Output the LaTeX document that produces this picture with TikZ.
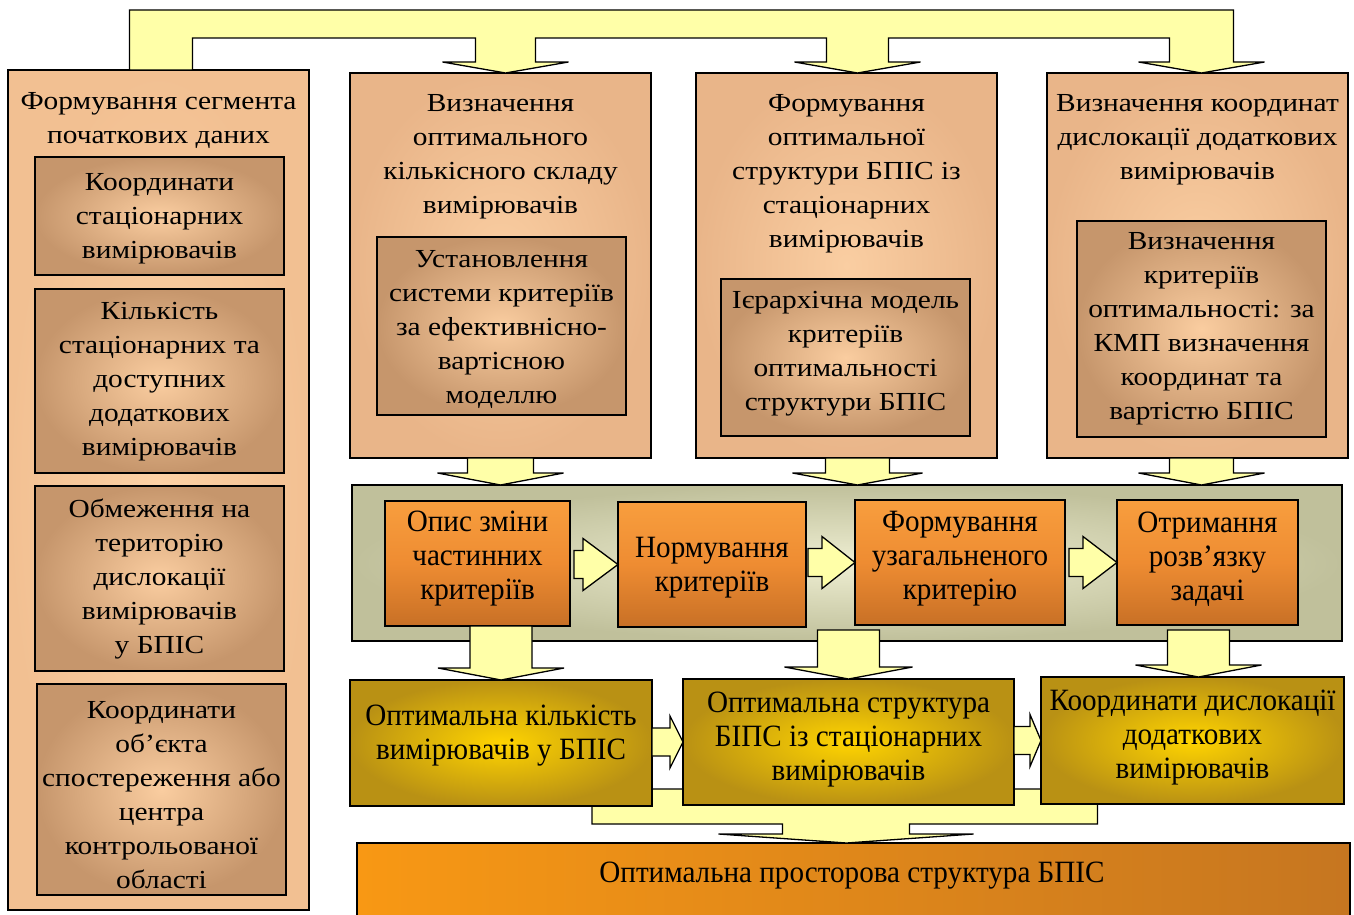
\documentclass[tikz,border=0pt]{standalone}
\usepackage{fontspec}
\setmainfont{Liberation Serif}
\newfontfamily\widef[FakeStretch=1.13]{Liberation Serif}
\newfontfamily\narrowf[FakeStretch=0.94]{Liberation Serif}
\usetikzlibrary{calc}

\definecolor{arrowfill}{RGB}{255,255,168}
\definecolor{peachin}{RGB}{250,206,162}
\definecolor{peachout}{RGB}{233,181,137}
\definecolor{leftin}{RGB}{252,210,166}
\definecolor{leftout}{RGB}{242,192,146}
\definecolor{tanin}{RGB}{250,205,160}
\definecolor{tanout}{RGB}{198,150,108}
\definecolor{panelin}{RGB}{238,238,210}
\definecolor{panelout}{RGB}{192,192,155}
\definecolor{orangetop}{RGB}{248,158,62}
\definecolor{orangemid}{RGB}{238,140,50}
\definecolor{orangebot}{RGB}{200,112,38}
\definecolor{goldin}{RGB}{255,212,0}
\definecolor{goldout}{RGB}{185,145,20}
\definecolor{barleft}{RGB}{248,152,20}
\definecolor{barright}{RGB}{198,118,32}

% downward block arrow: start anchor, tip, stem half width, head half width, head length
\newcommand\dnarrow[5]{%
  \draw[blk] let \p1=(#1), \p2=(#2) in
    (\x2-#3,\y1) -- (\x2-#3,\y2+#5) -- (\x2-#4,\y2+#5) -- (\x2,\y2)
    -- (\x2+#4,\y2+#5) -- (\x2+#3,\y2+#5) -- (\x2+#3,\y1) -- cycle;}
% rightward block arrow: start anchor, tip, stem half height, head half height, head length
\newcommand\rtarrow[5]{%
  \draw[blk] let \p1=(#1), \p2=(#2) in
    (\x1,\y2+#3) -- (\x2-#5,\y2+#3) -- (\x2-#5,\y2+#4) -- (\x2,\y2)
    -- (\x2-#5,\y2-#4) -- (\x2-#5,\y2-#3) -- (\x1,\y2-#3) -- cycle;}

\begin{document}
\begin{tikzpicture}[x=1pt,y=-1pt,
  frame/.style={draw=black, line width=1.5pt, inner sep=0pt, outer sep=0pt},
  outerbox/.style={frame, inner color=peachin, outer color=peachout},
  leftbox/.style={frame, inner color=leftin, outer color=leftout},
  tanbox/.style={frame, inner color=tanin, outer color=tanout},
  panelbox/.style={frame, inner color=panelin, outer color=panelout},
  stepbox/.style={frame, top color=orangetop, bottom color=orangebot, middle color=orangemid},
  goldbox/.style={frame, inner color=goldin, outer color=goldout},
  blk/.style={draw=black, line width=1.3pt, fill=arrowfill, line join=miter},
  txt/.style={align=center, inner sep=0pt, yshift=-3pt, font=\widef\fontsize{26}{34}\selectfont},
  ntxt/.style={align=center, inner sep=0pt, yshift=-3pt, font=\narrowf\fontsize{31}{34}\selectfont}
]
\useasboundingbox (0,0) rectangle (1354,915);

% ---------- top blocks ----------
\node[leftbox, minimum width=301, minimum height=840] (L) at (158.5,490) {};
\node[outerbox, minimum width=301, minimum height=385] (A) at (500.5,265.5) {};
\node[outerbox, minimum width=301, minimum height=385] (B) at (846.5,265.5) {};
\node[outerbox, minimum width=301, minimum height=385] (C) at (1197.5,265.5) {};

% distribution bus from the input segment to the three task blocks
\coordinate (tA) at ($(A.north)+(5,0)$);
\coordinate (tB) at ($(B.north)+(11,0)$);
\coordinate (tC) at ($(C.north)+(4,0)$);
\draw[blk] let \p0=(L.north), \p1=(tA), \p2=(tB), \p3=(tC) in
  (\x0-29pt,\y0) -- (\x0-29pt,\y1+63pt) -- (\x3+32pt,\y1+63pt) -- (\x3+32pt,\y3+11pt)
  -- (\x3+63pt,\y3+11pt) -- (\x3,\y3) -- (\x3-63pt,\y3+11pt) -- (\x3-32pt,\y3+11pt)
  -- (\x3-32pt,\y1+35pt) -- (\x2+31pt,\y1+35pt) -- (\x2+31pt,\y2+11pt)
  -- (\x2+63pt,\y2+11pt) -- (\x2,\y2) -- (\x2-63pt,\y2+11pt) -- (\x2-31pt,\y2+11pt)
  -- (\x2-31pt,\y1+35pt) -- (\x1+30pt,\y1+35pt) -- (\x1+30pt,\y1+11pt)
  -- (\x1+63pt,\y1+11pt) -- (\x1,\y1) -- (\x1-63pt,\y1+11pt) -- (\x1-30pt,\y1+11pt)
  -- (\x1-30pt,\y1+35pt) -- (\x0+34pt,\y1+35pt) -- (\x0+34pt,\y0) -- cycle;

% left column: input data
\node[txt] (Lt) at (158.5,118) {Формування сегмента\\початкових даних};
\node[tanbox, minimum width=249, minimum height=118] (L1) at (159.5,216) {};
\node[txt] (L1t) at (L1) {Координати\\стаціонарних\\вимірювачів};
\node[tanbox, minimum width=249, minimum height=184] (L2) at (159.5,381) {};
\node[txt] (L2t) at (159.5,379) {Кількість\\стаціонарних та\\доступних\\додаткових\\вимірювачів};
\node[tanbox, minimum width=249, minimum height=185] (L3) at (159.5,578.5) {};
\node[txt] (L3t) at (159.5,576) {Обмеження на\\територію\\дислокації\\вимірювачів\\у БПІС};
\node[tanbox, minimum width=249, minimum height=211] (L4) at (161.5,789.5) {};
\node[txt] (L4t) at (161.5,792) {Координати\\об’єкта\\спостереження або\\центра\\контрольованої\\області};

% task blocks
\node[txt] (At) at (500.5,154) {Визначення\\оптимального\\кількісного складу\\вимірювачів};
\node[tanbox, minimum width=249, minimum height=178] (A1) at (501.5,326) {};
\node[txt] (A1t) at (A1) {Установлення\\системи критеріїв\\за ефективнісно-\\вартісною\\моделлю};

\node[txt] (Bt) at (846.5,171) {Формування\\оптимальної\\структури БПІС із\\стаціонарних\\вимірювачів};
\node[tanbox, minimum width=249, minimum height=157] (B1) at (845.5,357.5) {};
\node[txt] (B1t) at (845.5,351) {Ієрархічна модель\\критеріїв\\оптимальності\\структури БПІС};

\node[txt] (Ct) at (1197.5,137) {Визначення координат\\дислокації додаткових\\вимірювачів};
\node[tanbox, minimum width=249, minimum height=216] (C1) at (1201.5,329) {};
\node[txt] (C1t) at (1201.5,326) {Визначення\\критеріїв\\оптимальності: за\\КМП визначення\\координат та\\вартістю БПІС};

% ---------- processing panel ----------
\node[panelbox, minimum width=990, minimum height=156] (panel) at (847,563) {};
\dnarrow{A.south}{panel.north -| A.south}{33pt}{63pt}{12pt}
\dnarrow{B.south}{$(panel.north -| B.south)+(11,0)$}{32pt}{65pt}{12pt}
\dnarrow{C.south}{$(panel.north -| C.south)+(4,0)$}{32pt}{63pt}{12pt}

\node[stepbox, minimum width=185, minimum height=125] (o1) at (477.5,563.5) {};
\node[stepbox, minimum width=188, minimum height=125] (o2) at (712,564.5) {};
\node[stepbox, minimum width=210, minimum height=125] (o3) at (960,562.5) {};
\node[stepbox, minimum width=181, minimum height=125] (o4) at (1207.5,562.5) {};
\node[ntxt] (o1t) at (477.5,556) {Опис зміни\\частинних\\критеріїв};
\node[ntxt] (o2t) at (712,565) {Нормування\\критеріїв};
\node[ntxt] (o3t) at (960,556) {Формування\\узагальненого\\критерію};
\node[ntxt] (o4t) at (1207.5,556) {Отримання\\розв’язку\\задачі};

\rtarrow{$(o1.east)+(4,0)$}{o2.west}{14pt}{26pt}{35pt}
\rtarrow{$(o2.east)+(2,0)$}{o3.west}{14pt}{26pt}{33pt}
\rtarrow{$(o3.east)+(4,0)$}{o4.west}{14pt}{26pt}{34pt}

% ---------- results ----------
\node[frame, left color=barleft, right color=barright, minimum width=993, minimum height=80] (bar) at (853.5,883) {};

% collector into the final structure
\coordinate (tBar) at ($(bar.north)+(-7,0)$);
\coordinate (Y1s) at (501,806);
\coordinate (Y3s) at (1192.5,804);
\draw[blk] let \p1=(Y1s), \p2=(Y3s), \p3=(tBar) in
  (\x1+91pt,\y3+54pt) -- (\x1+91pt,\y3+19pt) -- (\x3-64pt,\y3+19pt) -- (\x3-64pt,\y3+9pt)
  -- (\x3-128pt,\y3+9pt) -- (\x3,\y3) -- (\x3+127pt,\y3+9pt) -- (\x3+63pt,\y3+9pt)
  -- (\x3+63pt,\y3+19pt) -- (\x2-95pt,\y3+19pt) -- (\x2-95pt,\y3+54pt) -- cycle;

\node[goldbox, minimum width=302, minimum height=126] (Y1) at (501,743) {};
\node[goldbox, minimum width=331, minimum height=126] (Y2) at (848.5,742) {};
\node[goldbox, minimum width=303, minimum height=127] (Y3) at (1192.5,740.5) {};
\node[ntxt] (Y1t) at (501,733) {Оптимальна кількість\\вимірювачів у БПІС};
\node[ntxt] (Y2t) at (848.5,737) {Оптимальна структура\\БІПС із стаціонарних\\вимірювачів};
\node[ntxt] (Y3t) at (1192.5,735) {Координати дислокації\\додаткових\\вимірювачів};

\dnarrow{o1.south}{Y1.north}{31pt}{63pt}{12pt}
\dnarrow{$(panel.south)+(0,-11)$}{Y2.north}{31pt}{64pt}{12pt}
\dnarrow{$(panel.south)+(0,-11)$}{$(Y3.north)+(6,0)$}{31pt}{63pt}{12pt}

\rtarrow{Y1.east}{Y2.west}{14pt}{26pt}{13pt}
\rtarrow{Y2.east}{Y3.west}{14pt}{26pt}{11pt}

\node[ntxt] (bart) at (852,873) {Оптимальна просторова структура БПІС};
\end{tikzpicture}
\end{document}
